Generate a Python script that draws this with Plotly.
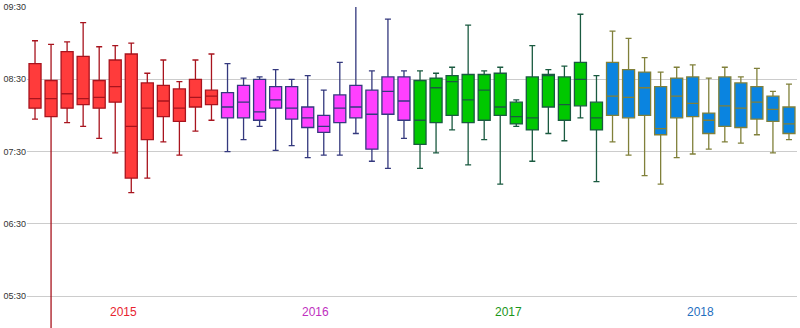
import plotly.graph_objects as go

# Monthly arrival-time distributions (HH:MM), 12 months per year
years = ["2015", "2016", "2017", "2018"]

upper_2015 = ["09:02", "08:59", "09:01", "09:17", "08:57", "08:58", "09:00", "08:35", "08:46", "08:28", "08:46", "08:51"]
q3_2015 = ["08:43", "08:29", "08:53", "08:49", "08:29", "08:46", "08:51", "08:27", "08:25", "08:22", "08:30", "08:21"]
med_2015 = ["08:14", "08:14", "08:18", "08:14", "08:15", "08:24", "07:51", "08:06", "08:12", "08:06", "08:15", "08:16"]
q1_2015 = ["08:06", "07:59", "08:06", "08:09", "08:06", "08:11", "07:08", "07:40", "07:59", "07:55", "08:07", "08:09"]
lower_2015 = ["07:57", "04:55", "07:54", "07:51", "07:41", "07:29", "06:56", "07:08", "07:38", "07:27", "07:47", "07:56"]

upper_2016 = ["08:43", "08:31", "08:32", "08:38", "08:30", "08:33", "08:21", "08:44", "09:32", "08:37", "09:20", "08:37"]
q3_2016 = ["08:19", "08:25", "08:30", "08:24", "08:24", "08:07", "08:00", "08:17", "08:25", "08:21", "08:32", "08:32"]
med_2016 = ["08:07", "08:11", "08:03", "08:13", "08:06", "07:58", "07:51", "08:06", "08:07", "08:01", "08:20", "08:12"]
q1_2016 = ["07:58", "07:58", "07:56", "08:06", "07:57", "07:50", "07:46", "07:54", "07:58", "07:32", "08:01", "07:56"]
lower_2016 = ["07:30", "07:40", "07:51", "07:31", "07:35", "07:25", "07:27", "07:27", "07:45", "07:22", "07:16", "07:41"]

upper_2017 = ["08:37", "08:35", "08:40", "09:15", "08:37", "08:40", "08:13", "08:58", "08:38", "08:41", "09:24", "08:33"]
q3_2017 = ["08:29", "08:31", "08:33", "08:34", "08:34", "08:35", "08:11", "08:32", "08:34", "08:32", "08:44", "08:11"]
med_2017 = ["07:56", "08:23", "08:28", "08:13", "08:21", "08:07", "07:59", "07:58", "08:33", "08:09", "08:30", "07:58"]
q1_2017 = ["07:36", "07:54", "08:00", "07:54", "07:56", "08:00", "07:53", "07:48", "08:07", "07:56", "08:08", "07:48"]
lower_2017 = ["07:16", "07:29", "07:48", "07:19", "07:40", "07:03", "07:51", "07:22", "07:45", "07:39", "07:58", "07:05"]

upper_2018 = ["09:10", "09:04", "08:48", "08:36", "08:40", "08:42", "08:31", "08:40", "08:32", "08:39", "08:20", "08:26"]
q3_2018 = ["08:44", "08:38", "08:36", "08:24", "08:31", "08:32", "08:02", "08:32", "08:27", "08:24", "08:16", "08:07"]
med_2018 = ["08:16", "08:15", "08:23", "07:49", "08:16", "08:10", "07:56", "08:08", "08:06", "08:11", "08:05", "07:53"]
q1_2018 = ["08:00", "07:58", "08:00", "07:44", "07:58", "07:59", "07:45", "07:51", "07:50", "07:57", "07:55", "07:45"]
lower_2018 = ["07:38", "07:27", "07:10", "07:03", "07:25", "07:28", "07:32", "07:38", "07:37", "07:44", "07:29", "07:40"]

tick_labels = ["05:30", "06:30", "07:30", "08:30", "09:30"]

fill_colors = ["#FF3B3B", "#FF40FF", "#00C800", "#0A84E0"]
line_colors = ["#A8141E", "#34397E", "#1A5A40", "#80803A"]
label_colors = ["#E8232F", "#C030C0", "#1A961A", "#1F6FC0"]


def to_min(t):
    h, m = t.split(":")
    return int(h) * 60 + int(m)


def mins(lst):
    return [to_min(t) for t in lst]


stats = [
    (upper_2015, q3_2015, med_2015, q1_2015, lower_2015),
    (upper_2016, q3_2016, med_2016, q1_2016, lower_2016),
    (upper_2017, q3_2017, med_2017, q1_2017, lower_2017),
    (upper_2018, q3_2018, med_2018, q1_2018, lower_2018),
]

fig = go.Figure()
for i, (year, (up, q3, med, q1, lo)) in enumerate(zip(years, stats)):
    xs = [i * 12 + k for k in range(len(med))]
    fig.add_trace(go.Box(
        name=year,
        x=xs,
        upperfence=mins(up),
        q3=mins(q3),
        median=mins(med),
        q1=mins(q1),
        lowerfence=mins(lo),
        width=0.75,
        fillcolor=fill_colors[i],
        line=dict(color=line_colors[i], width=1.3),
        showlegend=False,
    ))
    fig.add_annotation(
        x=i * 12 + 5.5, y=0.05, xref="x", yref="paper",
        text=year, showarrow=False,
        font=dict(family="Liberation Sans, Arial, sans-serif", size=12, color=label_colors[i]),
        xanchor="center", yanchor="middle",
    )

fig.update_layout(
    width=800, height=328,
    margin=dict(l=27, r=3, t=7, b=0),
    paper_bgcolor="white",
    plot_bgcolor="white",
    boxmode="overlay",
    xaxis=dict(
        range=[-0.5, 47.5],
        showgrid=False, zeroline=False, showticklabels=False, ticks="",
        showline=False,
    ),
    yaxis=dict(
        range=[303.6, 570],
        tickvals=[to_min(t) for t in tick_labels],
        ticktext=tick_labels,
        showgrid=True, gridcolor="#CCCCCC", gridwidth=1,
        zeroline=False, showline=False, ticks="",
        tickfont=dict(family="Liberation Sans, Arial, sans-serif", size=9, color="#333333"),
    ),
)

fig.write_html("out.html")
